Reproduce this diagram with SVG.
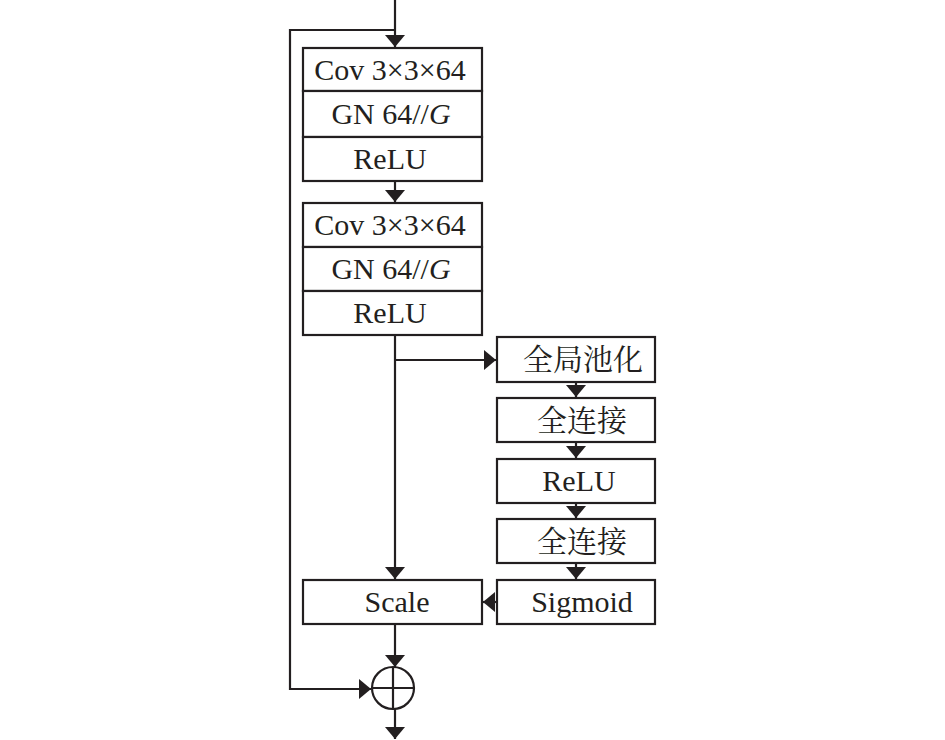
<svg xmlns="http://www.w3.org/2000/svg" width="945" height="740" viewBox="0 0 945 740">
<style>
.box{fill:#fff;stroke:#231f20;stroke-width:2.2}
.ln{fill:none;stroke:#231f20;stroke-width:2.2}
.t{font-family:"Liberation Serif","Times New Roman",serif;font-size:30px;fill:#231f20;text-anchor:middle}
.c{font-family:"Noto Serif CJK SC","Noto Sans CJK SC",serif;font-size:30px;fill:#231f20;text-anchor:middle}
</style>
<defs>
<marker id="ah" viewBox="0 0 12 20" refX="12" refY="10" markerWidth="12" markerHeight="20" markerUnits="userSpaceOnUse" orient="auto">
<path d="M0,0 L12,10 L0,20 Z" fill="#231f20"/>
</marker>
</defs>
<g id="connectors">
<line class="ln" x1="395" y1="0" x2="395" y2="47" marker-end="url(#ah)"/>
<polyline class="ln" points="395,30 290,30 290,689 371,689" marker-end="url(#ah)"/>
<line class="ln" x1="395" y1="181" x2="395" y2="202" marker-end="url(#ah)"/>
<line class="ln" x1="395" y1="335" x2="395" y2="579" marker-end="url(#ah)"/>
<line class="ln" x1="395" y1="360" x2="496" y2="360" marker-end="url(#ah)"/>
<line class="ln" x1="576" y1="382" x2="576" y2="397" marker-end="url(#ah)"/>
<line class="ln" x1="576" y1="442" x2="576" y2="458" marker-end="url(#ah)"/>
<line class="ln" x1="576" y1="503" x2="576" y2="518" marker-end="url(#ah)"/>
<line class="ln" x1="576" y1="563" x2="576" y2="579" marker-end="url(#ah)"/>
<line class="ln" x1="497" y1="602" x2="483" y2="602" marker-end="url(#ah)"/>
<line class="ln" x1="395" y1="624" x2="395" y2="667" marker-end="url(#ah)"/>
<line class="ln" x1="395" y1="709" x2="395" y2="739" marker-end="url(#ah)"/>
</g>
<g id="block1">
<rect class="box" x="303" y="48" width="179" height="43"/>
<rect class="box" x="303" y="91" width="179" height="46"/>
<rect class="box" x="303" y="137" width="179" height="44"/>
<text class="t" x="390" y="80">Cov 3×3×64</text>
<text class="t" x="391" y="124">GN 64//<tspan font-style="italic">G</tspan></text>
<text class="t" x="390" y="169">ReLU</text>
</g>
<g id="block2">
<rect class="box" x="303" y="203" width="179" height="44"/>
<rect class="box" x="303" y="247" width="179" height="44"/>
<rect class="box" x="303" y="291" width="179" height="44"/>
<text class="t" x="390" y="235">Cov 3×3×64</text>
<text class="t" x="391" y="279">GN 64//<tspan font-style="italic">G</tspan></text>
<text class="t" x="390" y="323">ReLU</text>
</g>
<g id="pool">
<rect class="box" x="497" y="337" width="158" height="45"/>
<text class="c" x="583" y="370">全局池化</text>
</g>
<g id="fc1">
<rect class="box" x="497" y="398" width="158" height="44"/>
<text class="c" x="582" y="431">全连接</text>
</g>
<g id="relu3">
<rect class="box" x="497" y="459" width="158" height="44"/>
<text class="t" x="579" y="491">ReLU</text>
</g>
<g id="fc2">
<rect class="box" x="497" y="519" width="158" height="44"/>
<text class="c" x="582" y="552">全连接</text>
</g>
<g id="sigmoid">
<rect class="box" x="497" y="580" width="158" height="44"/>
<text class="t" x="582" y="612">Sigmoid</text>
</g>
<g id="scale">
<rect class="box" x="303" y="580" width="179" height="44"/>
<text class="t" x="397" y="612">Scale</text>
</g>
<g id="sum">
<circle class="ln" cx="393" cy="688" r="21"/>
<line class="ln" x1="372" y1="688" x2="414" y2="688"/>
<line class="ln" x1="393" y1="667" x2="393" y2="709"/>
</g>
</svg>
